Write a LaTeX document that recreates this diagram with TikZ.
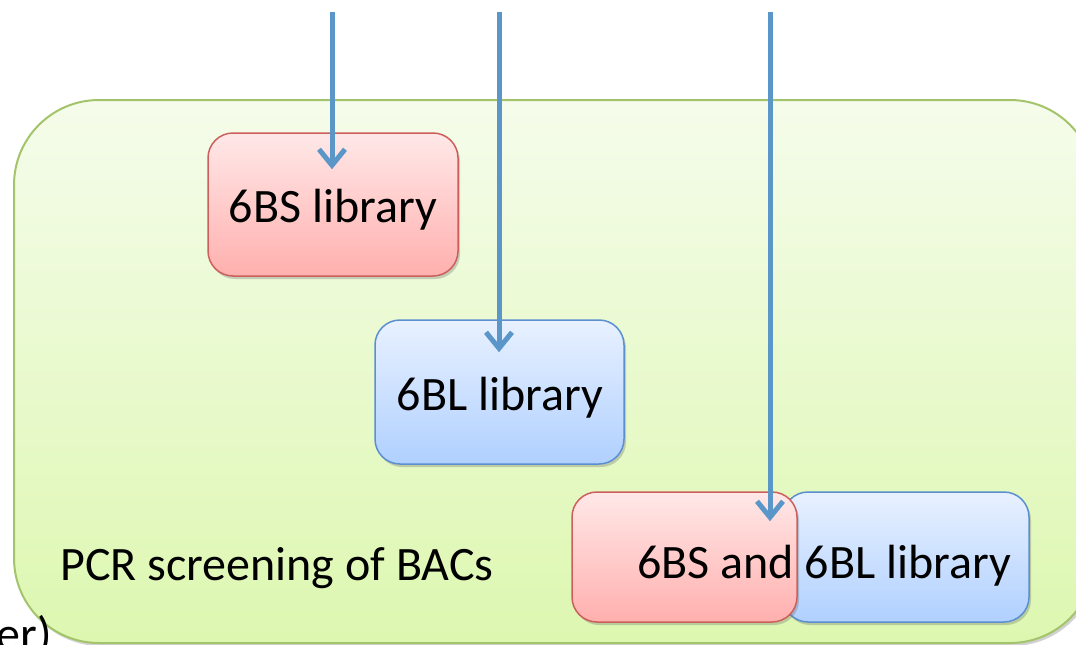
\documentclass[tikz,border=0pt]{standalone}
\usepackage{fontspec}
\setmainfont{Carlito}
\usetikzlibrary{arrows.meta,shadows,calc}

\definecolor{pinkTop}{HTML}{FFE8E8}
\definecolor{pinkBot}{HTML}{FFB0AE}
\definecolor{pinkLine}{HTML}{CC5F5C}
\definecolor{blueTop}{HTML}{E8F1FF}
\definecolor{blueBot}{HTML}{B0D0FF}
\definecolor{blueLine}{HTML}{5B8FCF}
\definecolor{greenTop}{HTML}{F5FCEB}
\definecolor{greenBot}{HTML}{DDF7B0}
\definecolor{greenLine}{HTML}{A3C46A}
\definecolor{flowBlue}{HTML}{5A96C8}

\tikzset{
  softshadow/.style={drop shadow={opacity=0.3, shadow xshift=2pt, shadow yshift=-3pt, fill=black!60}},
  libbox/.style={rectangle, rounded corners=25pt, line width=1.5pt, softshadow, inner sep=0pt},
  pinkbox/.style={libbox, draw=pinkLine, top color=pinkTop, bottom color=pinkBot},
  bluebox/.style={libbox, draw=blueLine, top color=blueTop, bottom color=blueBot},
  bigtext/.style={font=\fontsize{48}{56}\selectfont, text=black, inner sep=0pt},
  flow/.style={draw=flowBlue, line width=5pt, -{Straight Barb[length=16pt, width=26pt, line width=5pt]}},
}

\begin{document}
\begin{tikzpicture}[x=1pt, y=-1pt]
\useasboundingbox (0,0) rectangle (1076,645);

% screening panel
\path[draw=greenLine, line width=2pt, rounded corners=85pt, top color=greenTop, bottom color=greenBot, softshadow]
  (14,100) rectangle (1095,643);
\node[bigtext, anchor=base west] (pcr) at (60,580) {PCR screening of BACs};

% libraries
\node[pinkbox, minimum width=250pt, minimum height=143pt] (bs) at (333,204.5) {};
\node[bigtext, anchor=base] (bstext) at (333,222) {6BS library};

\node[bluebox, minimum width=249pt, minimum height=144pt] (bl) at (499.5,392) {};
\node[bigtext, anchor=base] (bltext) at (500,410) {6BL library};

\node[bluebox, minimum width=246pt, minimum height=130pt] (blb) at (906,557) {};
\node[pinkbox, minimum width=225pt, minimum height=130pt] (bsb) at (684.5,557) {};
\node[bigtext, anchor=base west] (bothtext) at (637,578) {6BS and 6BL library};

% cut-off text at the lower left
\node[bigtext, anchor=base east] (tail) at (52,650) {er)};

% incoming arrows
\coordinate (s1) at (332,12);
\coordinate (s2) at (499,12);
\coordinate (s3) at (770,12);
\coordinate (e1) at ([yshift=-37pt]bs.north);
\coordinate (e2) at ([yshift=-33pt]bl.north);
\coordinate (e3) at ([yshift=-30pt]bsb.north);
\draw[flow] (s1) -- (s1 |- e1);
\draw[flow] (s2) -- (s2 |- e2);
\draw[flow] (s3) -- (s3 |- e3);
\end{tikzpicture}
\end{document}
